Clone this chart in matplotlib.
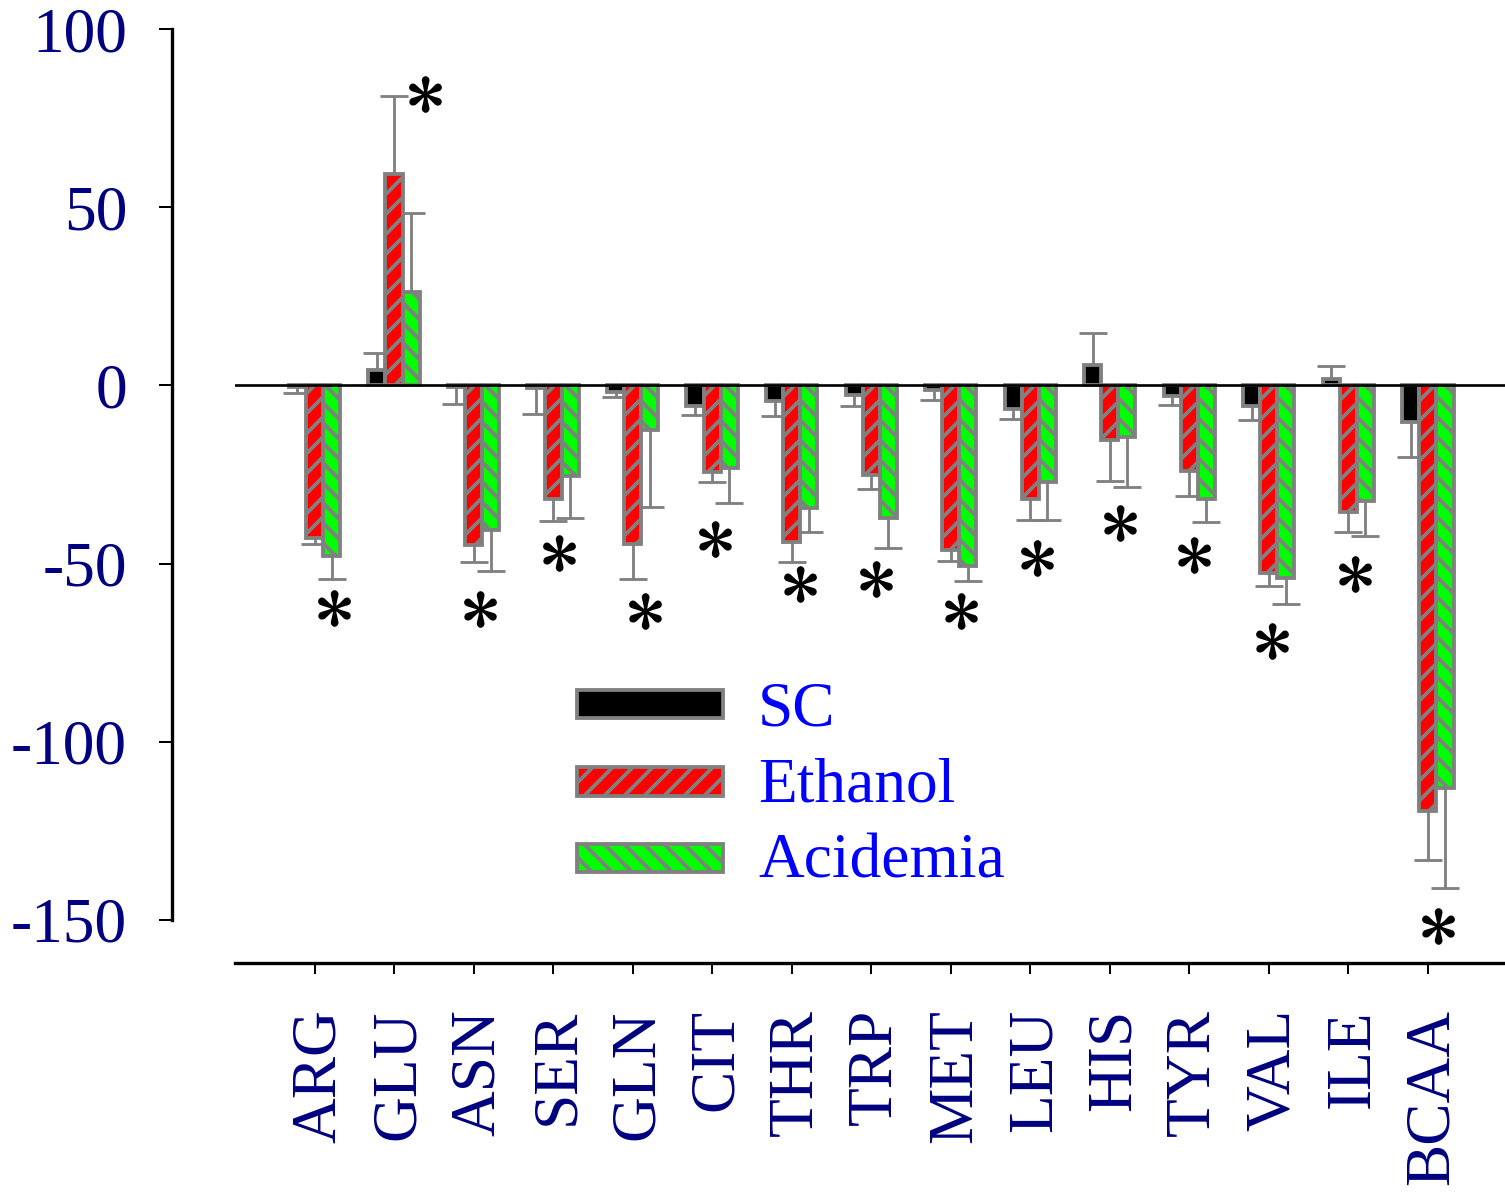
import matplotlib
matplotlib.use('Agg')
import matplotlib.pyplot as plt
import matplotlib.transforms as mtransforms
import numpy as np
from matplotlib.patches import Rectangle

# ---------------- data ----------------
categories = ['ARG', 'GLU', 'ASN', 'SER', 'GLN', 'CIT', 'THR', 'TRP', 'MET',
              'LEU', 'HIS', 'TYR', 'VAL', 'ILE', 'BCAA']
series_names = ['SC', 'Ethanol', 'Acidemia']
sc = [-0.5, 4.2, -0.5, -0.8, -1.9, -5.9, -4.5, -2.8, -1.4, -6.5, 5.8, -3.0, -5.9, 1.8, -10.3]
sc_err = [1.5, 4.8, 4.6, 7.3, 1.4, 2.3, 4.1, 3.1, 2.6, 2.9, 8.9, 2.6, 3.7, 3.7, 9.9]
ethanol = [-42.7, 59.3, -44.9, -32.0, -44.5, -24.4, -44.0, -25.1, -46.3, -31.8, -15.2,
           -23.9, -52.7, -35.4, -119.4]
ethanol_err = [1.9, 21.9, 4.7, 6.1, 9.7, 2.6, 5.6, 4.1, 2.9, 5.9, 11.5, 7.0, 3.7, 5.6, 13.7]
acidemia = [-48.0, 26.1, -40.6, -25.5, -12.4, -23.2, -34.4, -37.3, -50.6, -27.2, -14.5,
            -31.8, -54.0, -32.3, -112.9]
acidemia_err = [6.2, 22.2, 11.6, 11.6, 21.6, 9.7, 6.7, 8.4, 4.2, 10.7, 14.1, 6.6, 7.2, 10.0, 28.0]
# significance asterisks: y value of each star (one per category)
star_y = [-62.4, 81.7, -62.6, -47.0, -63.2, -43.0, -55.8, -54.2, -63.2, -48.5, -38.6,
          -47.5, -71.6, -52.8, -151.7]
star_dx = [0.24, 0.39, 0.08, 0.08, 0.16, 0.03, 0.10, 0.06, 0.13, 0.09, 0.13, 0.06, 0.04, 0.09, 0.13]
y_ticks = [100, 50, 0, -50, -100, -150]

# ---------------- style ----------------
DPI = 120
W, H = 1505, 1194
plt.rcParams['font.family'] = ['Liberation Serif', 'DejaVu Serif']
plt.rcParams['mathtext.fontset'] = 'stix'
plt.rcParams['hatch.linewidth'] = 2.3
plt.rcParams['hatch.color'] = '#808080'

GREY = '#808080'
NAVY = '#000080'
FS = 38

fig = plt.figure(figsize=(W / DPI, H / DPI), dpi=DPI)
ax = fig.add_axes([235 / W, 1 - 963 / H, 1 - 235 / W, (963 - 29) / H])

x = np.arange(len(categories))
bw = 0.215
series = [sc, ethanol, acidemia]
errs = [sc_err, ethanol_err, acidemia_err]
faces = ['black', '#ff0000', '#00ff00']
hatches = [None, '//', '\\\\']
offsets = [-bw, 0.0, bw]
cap_half = 0.176

for vals, err, fc, hatch, off in zip(series, errs, faces, hatches, offsets):
    vals = np.asarray(vals, float)
    err = np.asarray(err, float)
    xs = x + off
    ends = vals + np.sign(vals) * err
    ax.vlines(xs, vals, ends, color=GREY, lw=1.7, zorder=1)
    ax.hlines(ends, xs - cap_half, xs + cap_half, color=GREY, lw=1.7, zorder=1)
    ax.bar(xs, vals, width=bw, color=fc, edgecolor=GREY, linewidth=2.3,
           hatch=hatch, zorder=2)

ax.axhline(0, color='black', lw=1.6, zorder=3)

ax.plot(x + np.asarray(star_dx), star_y, linestyle='none', marker=r'$\ast$',
        markersize=21, color='black', clip_on=False, zorder=4)

ax.set_xlim(-1.0, 14.97)
ax.set_ylim(-150 - 43 / 3.564, 100)

for s in ['top', 'right']:
    ax.spines[s].set_visible(False)
ax.spines['left'].set_position(('outward', 63 * 72 / DPI))
ax.spines['left'].set_bounds(-150, 100)
ax.spines['left'].set_linewidth(2.0)
ax.spines['bottom'].set_linewidth(2.0)

ax.set_yticks(y_ticks)
ax.set_yticklabels([str(v) for v in y_ticks])
ax.set_xticks(x)
ax.set_xticklabels(categories, rotation=90)
ax.tick_params(axis='y', direction='out', length=13 * 72 / DPI, width=1.2,
               pad=32 * 72 / DPI, labelsize=FS, labelcolor=NAVY)
ax.tick_params(axis='x', direction='out', length=11 * 72 / DPI, width=1.2,
               pad=35 * 72 / DPI, labelsize=FS, labelcolor=NAVY)
shift = mtransforms.ScaledTranslation(5 / DPI, 0, fig.dpi_scale_trans)
for lab in ax.get_xticklabels():
    lab.set_transform(lab.get_transform() + shift)

# ---------------- legend ----------------
leg_boxes = [(690, 718), (767, 796), (844, 872)]
leg_base = [725, 802, 878]
for name, fc, hatch, (t, b), base in zip(series_names, faces, hatches, leg_boxes, leg_base):
    r = Rectangle((577 / W, 1 - b / H), (723 - 577) / W, (b - t) / H,
                  transform=fig.transFigure, facecolor=fc, edgecolor=GREY,
                  linewidth=2.3, hatch=hatch)
    fig.add_artist(r)
    fig.text(758 / W, 1 - base / H, name, fontsize=FS, color='#0000ff',
             va='baseline', ha='left')

fig.savefig('out.png', dpi=DPI)
